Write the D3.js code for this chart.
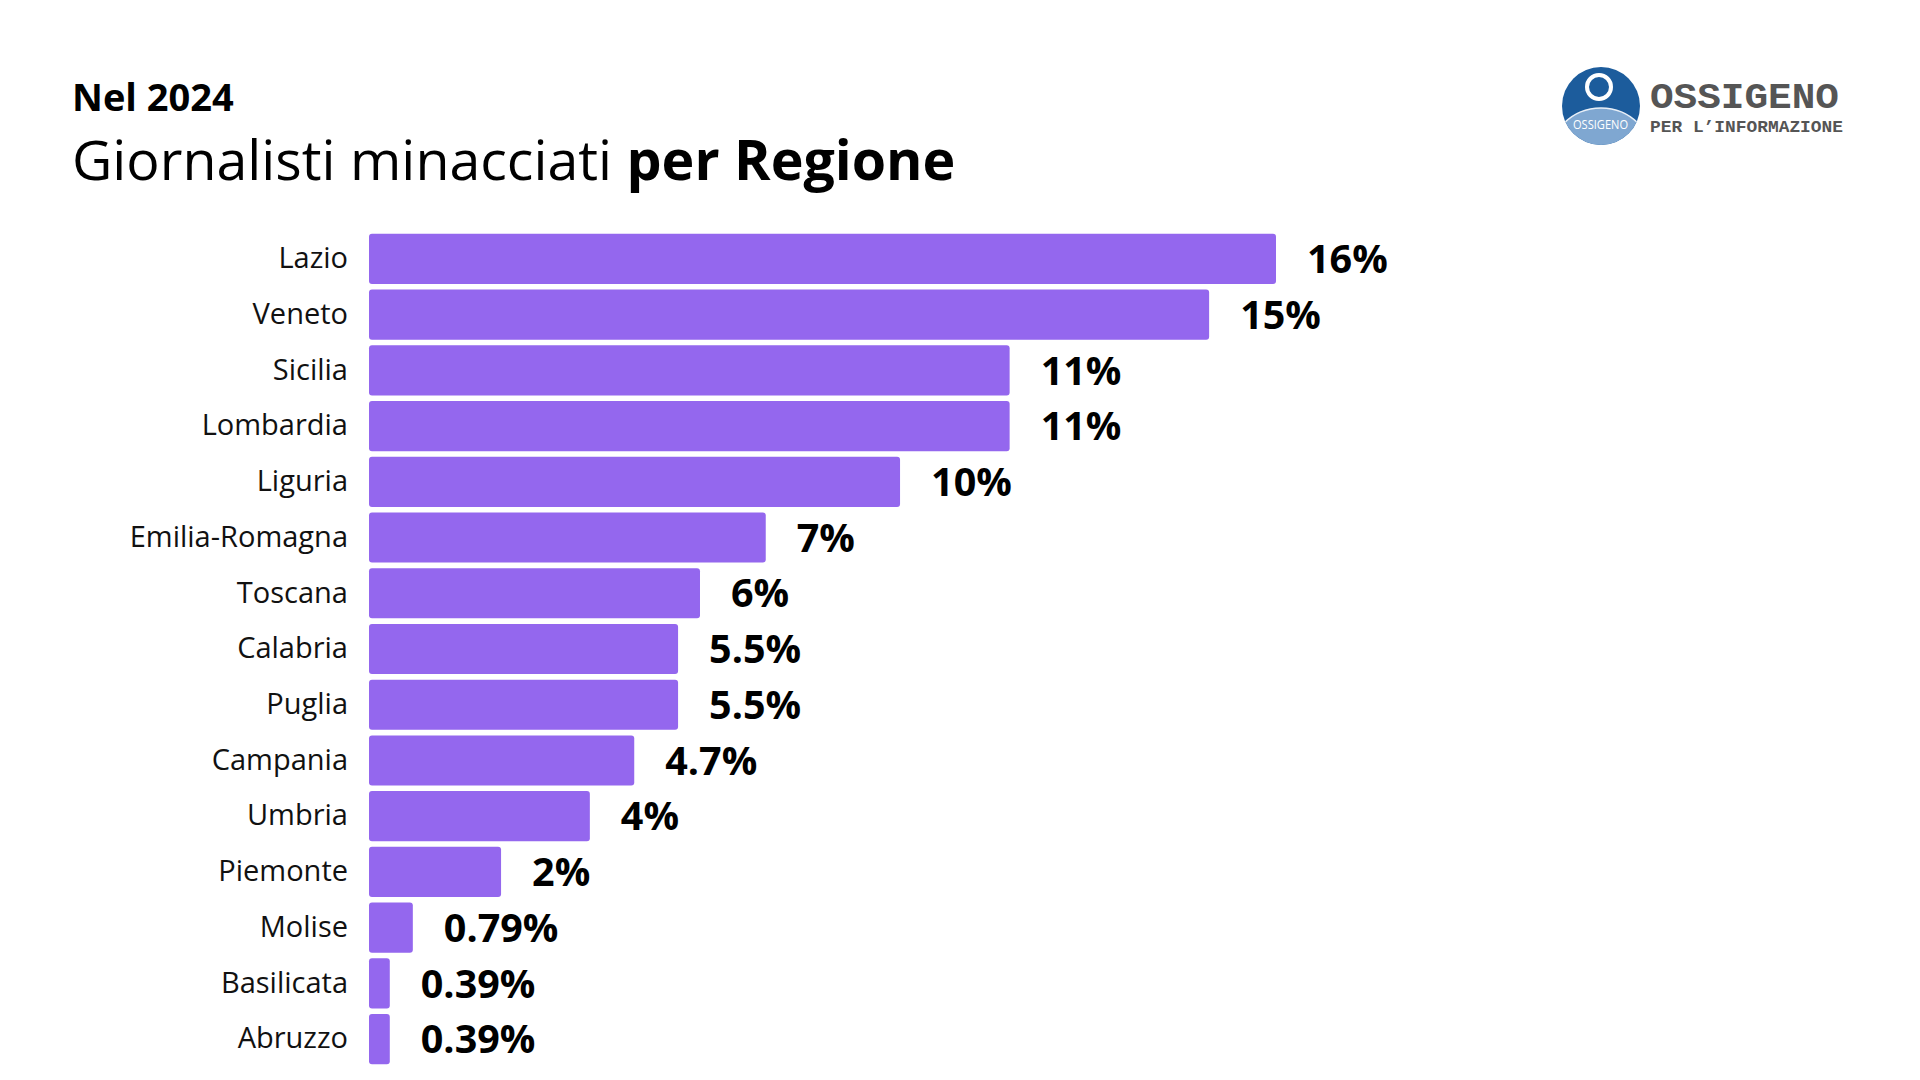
<!DOCTYPE html>
<html>
<head>
<meta charset="utf-8">
<script src="https://cdn.jsdelivr.net/npm/d3@7"></script>
<style>
  html, body { margin: 0; padding: 0; background: #fff; }
  svg { display: block; font-family: 'Open Sans', sans-serif; }
</style>
</head>
<body>
<svg id="chart" width="1920" height="1080"></svg>
<script>
// regions, top to bottom
const regions = [
  'Lazio', 'Veneto', 'Sicilia', 'Lombardia', 'Liguria', 'Emilia-Romagna',
  'Toscana', 'Calabria', 'Puglia', 'Campania', 'Umbria', 'Piemonte',
  'Molise', 'Basilicata', 'Abruzzo',
];
// share of threatened journalists (%)
const shares = [16.14, 14.95, 11.4, 11.4, 9.45, 7.06, 5.89, 5.5, 5.5, 4.72, 3.93, 2.35, 0.78, 0.37, 0.37];
// labels as printed next to the bars
const shareLabels = ['16%', '15%', '11%', '11%', '10%', '7%', '6%', '5.5%', '5.5%', '4.7%', '4%', '2%', '0.79%', '0.39%', '0.39%'];

const data = regions.map((r, i) => ({ region: r, value: shares[i], label: shareLabels[i] }));

const svg = d3.select('#chart');

const x = d3.scaleLinear().domain([0, d3.max(shares)]).range([369, 1276]);
const y = d3.scaleBand()
  .domain(regions)
  .range([231, 1067])
  .paddingInner(0.1)
  .paddingOuter(0.05);

// titles
svg.append('text')
  .attr('x', 72)
  .attr('y', 111)
  .attr('font-size', 38)
  .attr('font-weight', 700)
  .attr('fill', '#000')
  .text('Nel 2024');

const title = svg.append('text')
  .attr('x', 72)
  .attr('y', 180)
  .attr('font-size', 55.5)
  .attr('fill', '#000');
title.append('tspan').text('Giornalisti minacciati ');
title.append('tspan').attr('font-weight', 700).text('per Regione');

// bars
svg.append('g')
  .selectAll('rect')
  .data(data)
  .join('rect')
  .attr('x', x(0))
  .attr('y', (d) => y(d.region))
  .attr('width', (d) => x(d.value) - x(0))
  .attr('height', y.bandwidth())
  .attr('rx', 3)
  .attr('fill', '#9467ee');

// region names
const yAxis = d3.axisLeft(y).tickSize(0).tickPadding(0);
svg.append('g')
  .attr('transform', 'translate(348,0)')
  .call(yAxis)
  .call((g) => g.select('.domain').remove())
  .selectAll('text')
  .attr('font-family', "'Open Sans', sans-serif")
  .attr('font-size', 29)
  .attr('fill', '#111');

// value labels
svg.append('g')
  .selectAll('text')
  .data(data)
  .join('text')
  .attr('x', (d) => x(d.value) + 31)
  .attr('y', (d) => y(d.region) + y.bandwidth() / 2)
  .attr('dy', '0.36em')
  .attr('font-size', 39.5)
  .attr('font-weight', 700)
  .attr('fill', '#000')
  .text((d) => d.label);

// logo
const logo = svg.append('g');
logo.append('clipPath')
  .attr('id', 'logo-clip')
  .append('circle')
  .attr('cx', 1601)
  .attr('cy', 106)
  .attr('r', 39);
logo.append('circle')
  .attr('cx', 1601)
  .attr('cy', 106)
  .attr('r', 39)
  .attr('fill', '#1c5c9c');
logo.append('circle')
  .attr('clip-path', 'url(#logo-clip)')
  .attr('cx', 1601)
  .attr('cy', 161)
  .attr('r', 53)
  .attr('fill', '#7fa7d1')
  .attr('stroke', '#e8eff7')
  .attr('stroke-width', 1.5);
logo.append('circle')
  .attr('cx', 1599)
  .attr('cy', 87)
  .attr('r', 12)
  .attr('fill', 'none')
  .attr('stroke', '#fff')
  .attr('stroke-width', 4);
logo.append('text')
  .attr('x', 1573)
  .attr('y', 129)
  .attr('font-size', 12)
  .attr('textLength', 55)
  .attr('lengthAdjust', 'spacingAndGlyphs')
  .attr('fill', '#fff')
  .text('OSSIGENO');
logo.append('text')
  .attr('x', 1650)
  .attr('y', 108)
  .attr('font-family', "'Liberation Mono', monospace")
  .attr('font-size', 37)
  .attr('font-weight', 700)
  .attr('textLength', 189)
  .attr('lengthAdjust', 'spacingAndGlyphs')
  .attr('fill', '#555')
  .text('OSSIGENO');
logo.append('text')
  .attr('x', 1650)
  .attr('y', 132)
  .attr('font-family', "'Liberation Mono', monospace")
  .attr('font-size', 17)
  .attr('font-weight', 700)
  .attr('textLength', 193)
  .attr('lengthAdjust', 'spacingAndGlyphs')
  .attr('fill', '#555')
  .text('PER L\u2019INFORMAZIONE');
</script>
</body>
</html>
